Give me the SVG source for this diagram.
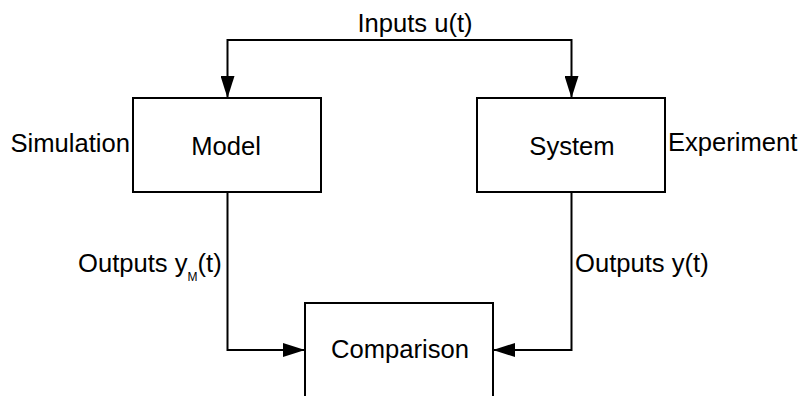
<svg xmlns="http://www.w3.org/2000/svg" width="800" height="396" viewBox="0 0 800 396">
  <style>
    .box { fill: #ffffff; stroke: #000000; stroke-width: 2; }
    .edge { fill: none; stroke: #000000; stroke-width: 2; }
    text { font-family: "Liberation Sans", Arial, sans-serif; font-size: 25.6px; fill: #000000; }
    .mid { text-anchor: middle; }
    .sub { font-size: 12px; }
  </style>
  <defs>
    <marker id="arrow" markerUnits="userSpaceOnUse" markerWidth="22" markerHeight="14" refX="21" refY="7" orient="auto">
      <path d="M0,0 L22,7 L0,14 Z" fill="#000000"/>
    </marker>
  </defs>
  <rect width="800" height="396" fill="#ffffff"/>

  <g id="connectors">
    <path class="edge" d="M399,40 L227.5,40 L227.5,97" marker-end="url(#arrow)"/>
    <path class="edge" d="M399,40 L571.5,40 L571.5,97" marker-end="url(#arrow)"/>
    <path class="edge" d="M227.5,192 L227.5,350 L304,350" marker-end="url(#arrow)"/>
    <path class="edge" d="M571.5,192 L571.5,350 L494,350" marker-end="url(#arrow)"/>
    <text class="mid" x="415" y="32">Inputs u(t)</text>
    <text x="78" y="272">Outputs y<tspan class="sub" dy="9">M</tspan><tspan dy="-9">(t)</tspan></text>
    <text x="575" y="272">Outputs y(t)</text>
  </g>

  <g id="model">
    <rect class="box" x="133" y="98" width="188" height="94"/>
    <text class="mid" x="226" y="155">Model</text>
    <text x="130" y="152" text-anchor="end">Simulation</text>
  </g>

  <g id="system">
    <rect class="box" x="477" y="98" width="188" height="94"/>
    <text class="mid" x="572" y="155">System</text>
    <text x="668" y="151">Experiment</text>
  </g>

  <g id="comparison">
    <rect class="box" x="305" y="303" width="188" height="110"/>
    <text class="mid" x="400" y="358">Comparison</text>
  </g>
</svg>
